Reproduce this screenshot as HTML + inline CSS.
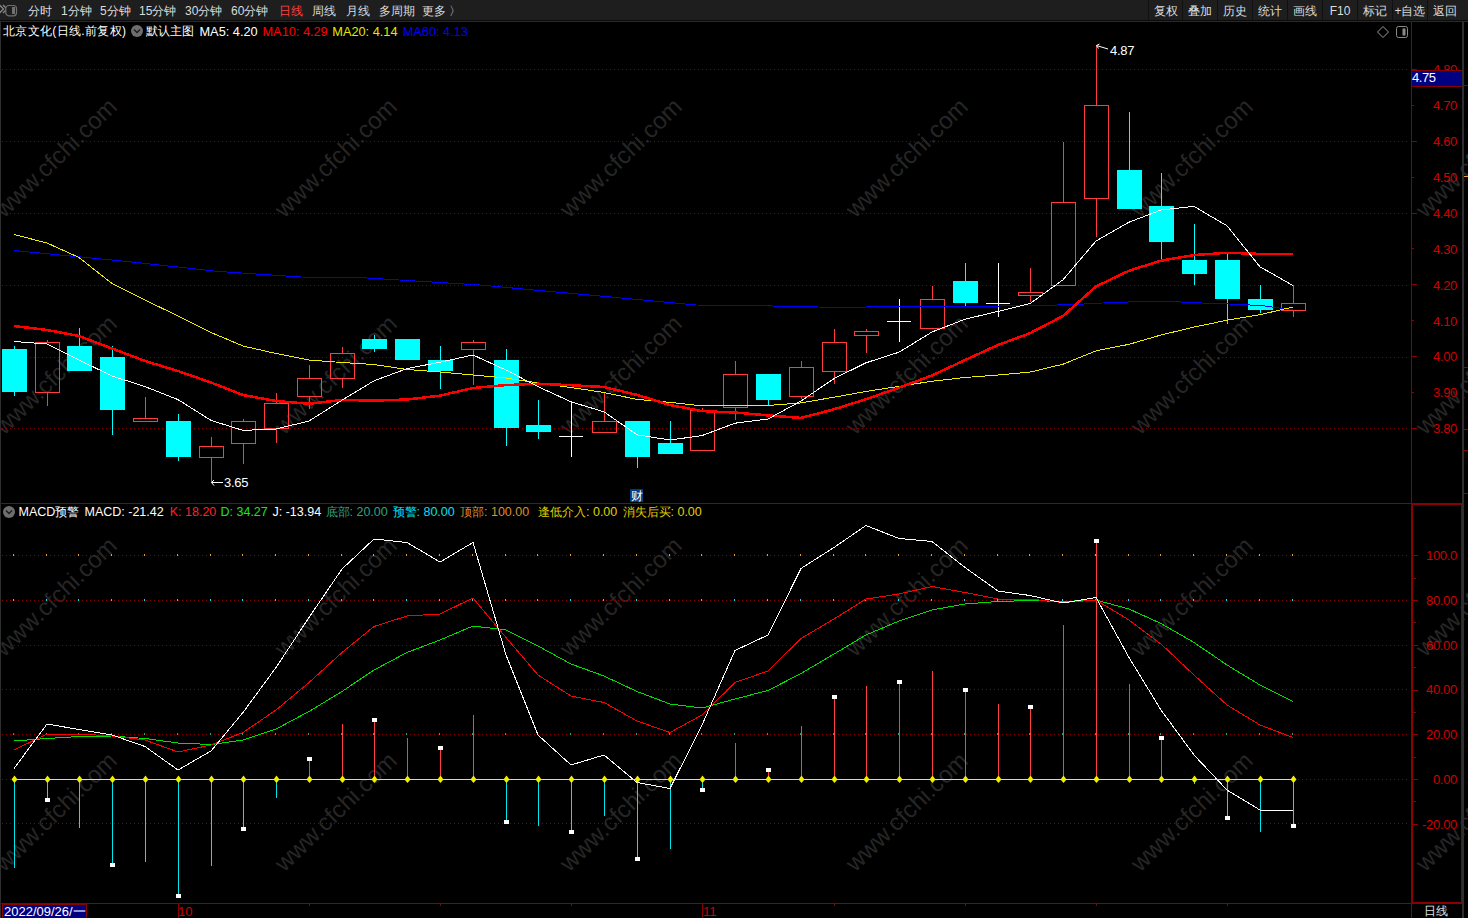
<!DOCTYPE html><html><head><meta charset="utf-8"><style>
html,body{margin:0;padding:0;background:#000;width:1468px;height:918px;overflow:hidden;font-family:"Liberation Sans",sans-serif;}
.a{position:absolute;white-space:nowrap;line-height:1;}
#tb{position:absolute;left:0;top:0;width:1468px;height:20px;background:#1e1e1f;}
.m{position:absolute;top:5px;font-size:12px;color:#dcdcdc;line-height:12px;white-space:nowrap;}
.b{position:absolute;top:0;height:20px;background:#1e1e1f;border-left:1px solid #101010;font-size:12px;color:#dcdcdc;line-height:22px;text-align:center;overflow:hidden;}
.hd{position:absolute;font-size:13px;line-height:13px;white-space:nowrap;}
svg{position:absolute;left:0;top:0;}
</style></head><body>
<svg width="1468" height="918" viewBox="0 0 1468 918"><text x="57" y="159" transform="rotate(-44 57 159)" text-anchor="middle" dominant-baseline="middle" font-size="24" fill="#262626" font-family="Liberation Sans, sans-serif">www.cfchi.com</text>
<text x="337" y="159" transform="rotate(-44 337 159)" text-anchor="middle" dominant-baseline="middle" font-size="24" fill="#262626" font-family="Liberation Sans, sans-serif">www.cfchi.com</text>
<text x="622" y="159" transform="rotate(-44 622 159)" text-anchor="middle" dominant-baseline="middle" font-size="24" fill="#262626" font-family="Liberation Sans, sans-serif">www.cfchi.com</text>
<text x="908" y="159" transform="rotate(-44 908 159)" text-anchor="middle" dominant-baseline="middle" font-size="24" fill="#262626" font-family="Liberation Sans, sans-serif">www.cfchi.com</text>
<text x="1193" y="159" transform="rotate(-44 1193 159)" text-anchor="middle" dominant-baseline="middle" font-size="24" fill="#262626" font-family="Liberation Sans, sans-serif">www.cfchi.com</text>
<text x="1478" y="159" transform="rotate(-44 1478 159)" text-anchor="middle" dominant-baseline="middle" font-size="24" fill="#262626" font-family="Liberation Sans, sans-serif">www.cfchi.com</text>
<text x="57" y="376" transform="rotate(-44 57 376)" text-anchor="middle" dominant-baseline="middle" font-size="24" fill="#262626" font-family="Liberation Sans, sans-serif">www.cfchi.com</text>
<text x="337" y="376" transform="rotate(-44 337 376)" text-anchor="middle" dominant-baseline="middle" font-size="24" fill="#262626" font-family="Liberation Sans, sans-serif">www.cfchi.com</text>
<text x="622" y="376" transform="rotate(-44 622 376)" text-anchor="middle" dominant-baseline="middle" font-size="24" fill="#262626" font-family="Liberation Sans, sans-serif">www.cfchi.com</text>
<text x="908" y="376" transform="rotate(-44 908 376)" text-anchor="middle" dominant-baseline="middle" font-size="24" fill="#262626" font-family="Liberation Sans, sans-serif">www.cfchi.com</text>
<text x="1193" y="376" transform="rotate(-44 1193 376)" text-anchor="middle" dominant-baseline="middle" font-size="24" fill="#262626" font-family="Liberation Sans, sans-serif">www.cfchi.com</text>
<text x="1478" y="376" transform="rotate(-44 1478 376)" text-anchor="middle" dominant-baseline="middle" font-size="24" fill="#262626" font-family="Liberation Sans, sans-serif">www.cfchi.com</text>
<text x="57" y="598" transform="rotate(-44 57 598)" text-anchor="middle" dominant-baseline="middle" font-size="24" fill="#262626" font-family="Liberation Sans, sans-serif">www.cfchi.com</text>
<text x="337" y="598" transform="rotate(-44 337 598)" text-anchor="middle" dominant-baseline="middle" font-size="24" fill="#262626" font-family="Liberation Sans, sans-serif">www.cfchi.com</text>
<text x="622" y="598" transform="rotate(-44 622 598)" text-anchor="middle" dominant-baseline="middle" font-size="24" fill="#262626" font-family="Liberation Sans, sans-serif">www.cfchi.com</text>
<text x="908" y="598" transform="rotate(-44 908 598)" text-anchor="middle" dominant-baseline="middle" font-size="24" fill="#262626" font-family="Liberation Sans, sans-serif">www.cfchi.com</text>
<text x="1193" y="598" transform="rotate(-44 1193 598)" text-anchor="middle" dominant-baseline="middle" font-size="24" fill="#262626" font-family="Liberation Sans, sans-serif">www.cfchi.com</text>
<text x="1478" y="598" transform="rotate(-44 1478 598)" text-anchor="middle" dominant-baseline="middle" font-size="24" fill="#262626" font-family="Liberation Sans, sans-serif">www.cfchi.com</text>
<text x="57" y="813" transform="rotate(-44 57 813)" text-anchor="middle" dominant-baseline="middle" font-size="24" fill="#262626" font-family="Liberation Sans, sans-serif">www.cfchi.com</text>
<text x="337" y="813" transform="rotate(-44 337 813)" text-anchor="middle" dominant-baseline="middle" font-size="24" fill="#262626" font-family="Liberation Sans, sans-serif">www.cfchi.com</text>
<text x="622" y="813" transform="rotate(-44 622 813)" text-anchor="middle" dominant-baseline="middle" font-size="24" fill="#262626" font-family="Liberation Sans, sans-serif">www.cfchi.com</text>
<text x="908" y="813" transform="rotate(-44 908 813)" text-anchor="middle" dominant-baseline="middle" font-size="24" fill="#262626" font-family="Liberation Sans, sans-serif">www.cfchi.com</text>
<text x="1193" y="813" transform="rotate(-44 1193 813)" text-anchor="middle" dominant-baseline="middle" font-size="24" fill="#262626" font-family="Liberation Sans, sans-serif">www.cfchi.com</text>
<text x="1478" y="813" transform="rotate(-44 1478 813)" text-anchor="middle" dominant-baseline="middle" font-size="24" fill="#262626" font-family="Liberation Sans, sans-serif">www.cfchi.com</text>
<line x1="2" y1="69.5" x2="1408" y2="69.5" stroke="#8a0000" stroke-width="1" stroke-dasharray="1 3"/>
<line x1="2" y1="141.5" x2="1408" y2="141.5" stroke="#8a0000" stroke-width="1" stroke-dasharray="1 3"/>
<line x1="2" y1="213.5" x2="1408" y2="213.5" stroke="#8a0000" stroke-width="1" stroke-dasharray="1 3"/>
<line x1="2" y1="285.5" x2="1408" y2="285.5" stroke="#8a0000" stroke-width="1" stroke-dasharray="1 3"/>
<line x1="2" y1="357.5" x2="1408" y2="357.5" stroke="#8a0000" stroke-width="1" stroke-dasharray="1 3"/>
<line x1="2" y1="428.5" x2="1408" y2="428.5" stroke="#8a0000" stroke-width="1" stroke-dasharray="1 3"/>
<line x1="2" y1="555.5" x2="1408" y2="555.5" stroke="#8a0000" stroke-width="1" stroke-dasharray="1 3"/>
<line x1="2" y1="600.5" x2="1408" y2="600.5" stroke="#8a0000" stroke-width="1" stroke-dasharray="1 3"/>
<line x1="2" y1="645.5" x2="1408" y2="645.5" stroke="#8a0000" stroke-width="1" stroke-dasharray="1 3"/>
<line x1="2" y1="689.5" x2="1408" y2="689.5" stroke="#8a0000" stroke-width="1" stroke-dasharray="1 3"/>
<line x1="2" y1="734.5" x2="1408" y2="734.5" stroke="#8a0000" stroke-width="1" stroke-dasharray="1 3"/>
<line x1="2" y1="779.5" x2="1408" y2="779.5" stroke="#8a0000" stroke-width="1" stroke-dasharray="1 3"/>
<line x1="2" y1="823.5" x2="1408" y2="823.5" stroke="#8a0000" stroke-width="1" stroke-dasharray="1 3"/>
<g shape-rendering="crispEdges"><rect x="14" y="346" width="1" height="3" fill="#00ffff"/><rect x="14" y="392" width="1" height="4" fill="#00ffff"/><rect x="2" y="349" width="25" height="43" fill="#00ffff"/><rect x="47" y="340" width="1" height="2" fill="#ff3c3c"/><rect x="47" y="392" width="1" height="14" fill="#ff3c3c"/><rect x="35.5" y="342.5" width="24" height="50" fill="none" stroke="#ff3c3c" stroke-width="1"/><rect x="79" y="328" width="1" height="18" fill="#00ffff"/><rect x="67" y="346" width="25" height="25" fill="#00ffff"/><rect x="112" y="346" width="1" height="11" fill="#00ffff"/><rect x="112" y="410" width="1" height="25" fill="#00ffff"/><rect x="100" y="357" width="25" height="53" fill="#00ffff"/><rect x="145" y="397" width="1" height="21" fill="#ff3c3c"/><rect x="133.5" y="418.5" width="24" height="3" fill="none" stroke="#ff3c3c" stroke-width="1"/><rect x="178" y="414" width="1" height="7" fill="#00ffff"/><rect x="178" y="457" width="1" height="4" fill="#00ffff"/><rect x="166" y="421" width="25" height="36" fill="#00ffff"/><rect x="211" y="437" width="1" height="9" fill="#ff3c3c"/><rect x="211" y="457" width="1" height="25" fill="#ff3c3c"/><rect x="199.5" y="446.5" width="24" height="11" fill="none" stroke="#ff3c3c" stroke-width="1"/><rect x="243" y="419" width="1" height="2" fill="#ff3c3c"/><rect x="243" y="443" width="1" height="21" fill="#ff3c3c"/><rect x="231.5" y="421.5" width="24" height="22" fill="none" stroke="#ff3c3c" stroke-width="1"/><rect x="276" y="393" width="1" height="10" fill="#ff3c3c"/><rect x="276" y="428" width="1" height="15" fill="#ff3c3c"/><rect x="264.5" y="403.5" width="24" height="25" fill="none" stroke="#ff3c3c" stroke-width="1"/><rect x="309" y="365" width="1" height="13" fill="#ff3c3c"/><rect x="309" y="396" width="1" height="13" fill="#ff3c3c"/><rect x="297.5" y="378.5" width="24" height="18" fill="none" stroke="#ff3c3c" stroke-width="1"/><rect x="342" y="347" width="1" height="6" fill="#ff3c3c"/><rect x="342" y="378" width="1" height="10" fill="#ff3c3c"/><rect x="330.5" y="353.5" width="24" height="25" fill="none" stroke="#ff3c3c" stroke-width="1"/><rect x="374" y="335" width="1" height="4" fill="#00ffff"/><rect x="374" y="349" width="1" height="3" fill="#00ffff"/><rect x="362" y="339" width="25" height="10" fill="#00ffff"/><rect x="395" y="339" width="25" height="21" fill="#00ffff"/><rect x="440" y="346" width="1" height="14" fill="#00ffff"/><rect x="440" y="371" width="1" height="18" fill="#00ffff"/><rect x="428" y="360" width="25" height="11" fill="#00ffff"/><rect x="473" y="340" width="1" height="2" fill="#ff3c3c"/><rect x="473" y="349" width="1" height="36" fill="#ff3c3c"/><rect x="461.5" y="342.5" width="24" height="7" fill="none" stroke="#ff3c3c" stroke-width="1"/><rect x="506" y="349" width="1" height="11" fill="#00ffff"/><rect x="506" y="428" width="1" height="18" fill="#00ffff"/><rect x="494" y="360" width="25" height="68" fill="#00ffff"/><rect x="538" y="400" width="1" height="25" fill="#00ffff"/><rect x="538" y="432" width="1" height="7" fill="#00ffff"/><rect x="526" y="425" width="25" height="7" fill="#00ffff"/><rect x="571" y="402" width="1" height="55" fill="#ffffff"/><rect x="559" y="436" width="24" height="1" fill="#ffffff"/><rect x="604" y="393" width="1" height="28" fill="#ff3c3c"/><rect x="592.5" y="421.5" width="24" height="11" fill="none" stroke="#ff3c3c" stroke-width="1"/><rect x="637" y="457" width="1" height="11" fill="#00ffff"/><rect x="625" y="421" width="25" height="36" fill="#00ffff"/><rect x="670" y="421" width="1" height="22" fill="#00ffff"/><rect x="658" y="443" width="25" height="11" fill="#00ffff"/><rect x="702" y="408" width="1" height="2" fill="#ff3c3c"/><rect x="690.5" y="410.5" width="24" height="40" fill="none" stroke="#ff3c3c" stroke-width="1"/><rect x="735" y="361" width="1" height="13" fill="#ff3c3c"/><rect x="735" y="407" width="1" height="13" fill="#ff3c3c"/><rect x="723.5" y="374.5" width="24" height="33" fill="none" stroke="#ff3c3c" stroke-width="1"/><rect x="768" y="400" width="1" height="5" fill="#00ffff"/><rect x="756" y="374" width="25" height="26" fill="#00ffff"/><rect x="801" y="361" width="1" height="6" fill="#ff3c3c"/><rect x="801" y="396" width="1" height="3" fill="#ff3c3c"/><rect x="789.5" y="367.5" width="24" height="29" fill="none" stroke="#ff3c3c" stroke-width="1"/><rect x="834" y="329" width="1" height="13" fill="#ff3c3c"/><rect x="834" y="371" width="1" height="13" fill="#ff3c3c"/><rect x="822.5" y="342.5" width="24" height="29" fill="none" stroke="#ff3c3c" stroke-width="1"/><rect x="866" y="329" width="1" height="2" fill="#ff3c3c"/><rect x="866" y="335" width="1" height="18" fill="#ff3c3c"/><rect x="854.5" y="331.5" width="24" height="4" fill="none" stroke="#ff3c3c" stroke-width="1"/><rect x="899" y="299" width="1" height="43" fill="#ffffff"/><rect x="887" y="321" width="24" height="1" fill="#ffffff"/><rect x="932" y="286" width="1" height="13" fill="#ff3c3c"/><rect x="920.5" y="299.5" width="24" height="29" fill="none" stroke="#ff3c3c" stroke-width="1"/><rect x="965" y="263" width="1" height="18" fill="#00ffff"/><rect x="965" y="303" width="1" height="3" fill="#00ffff"/><rect x="953" y="281" width="25" height="22" fill="#00ffff"/><rect x="998" y="263" width="1" height="54" fill="#ffffff"/><rect x="986" y="303" width="24" height="1" fill="#ffffff"/><rect x="1030" y="268" width="1" height="24" fill="#ff3c3c"/><rect x="1030" y="295" width="1" height="7" fill="#ff3c3c"/><rect x="1018.5" y="292.5" width="24" height="3" fill="none" stroke="#ff3c3c" stroke-width="1"/><rect x="1063" y="142" width="1" height="60" fill="#ff3c3c"/><rect x="1051.5" y="202.5" width="24" height="83" fill="none" stroke="#ff3c3c" stroke-width="1"/><rect x="1096" y="46" width="1" height="59" fill="#ff3c3c"/><rect x="1096" y="198" width="1" height="39" fill="#ff3c3c"/><rect x="1084.5" y="105.5" width="24" height="93" fill="none" stroke="#ff3c3c" stroke-width="1"/><rect x="1129" y="112" width="1" height="58" fill="#00ffff"/><rect x="1117" y="170" width="25" height="39" fill="#00ffff"/><rect x="1161" y="173" width="1" height="33" fill="#00ffff"/><rect x="1161" y="242" width="1" height="18" fill="#00ffff"/><rect x="1149" y="206" width="25" height="36" fill="#00ffff"/><rect x="1194" y="224" width="1" height="36" fill="#00ffff"/><rect x="1194" y="274" width="1" height="11" fill="#00ffff"/><rect x="1182" y="260" width="25" height="14" fill="#00ffff"/><rect x="1227" y="252" width="1" height="8" fill="#00ffff"/><rect x="1227" y="299" width="1" height="25" fill="#00ffff"/><rect x="1215" y="260" width="25" height="39" fill="#00ffff"/><rect x="1260" y="285" width="1" height="14" fill="#00ffff"/><rect x="1260" y="310" width="1" height="3" fill="#00ffff"/><rect x="1248" y="299" width="25" height="11" fill="#00ffff"/><rect x="1293" y="285" width="1" height="18" fill="#ff3c3c"/><rect x="1293" y="310" width="1" height="7" fill="#ff3c3c"/><rect x="1281.5" y="303.5" width="24" height="7" fill="none" stroke="#ff3c3c" stroke-width="1"/></g>
<polyline points="14.0,250.5 125.0,261.3 219.0,271.5 301.0,277.0 359.0,277.5 480.0,285.0 534.0,290.0 600.0,296.0 696.0,305.0 760.0,305.5 785.0,306.5 851.0,307.5 882.0,306.5 1000.0,306.0 1040.0,305.5 1075.0,304.5 1112.0,302.5 1145.0,301.5 1177.0,301.8 1202.0,303.0 1242.0,304.5 1265.0,306.0 1293.0,310.0" fill="none" stroke="#0000ff" stroke-width="1" shape-rendering="crispEdges"/>
<polyline points="14.0,234.5 47.0,243.0 79.0,257.5 112.0,283.5 145.0,300.0 178.0,316.0 211.0,332.5 243.0,346.0 276.0,353.5 309.0,360.0 342.0,362.5 374.0,364.5 407.0,369.5 440.0,372.0 473.0,375.0 506.0,378.0 538.0,383.0 571.0,387.5 604.0,392.5 637.0,399.4 670.0,402.4 702.0,405.9 735.0,406.0 768.0,405.5 801.0,402.9 834.0,397.2 866.0,391.4 899.0,386.4 932.0,381.2 965.0,377.5 998.0,375.0 1030.0,372.1 1063.0,364.2 1096.0,350.9 1129.0,344.3 1161.0,335.0 1194.0,327.1 1227.0,320.2 1260.0,314.7 1293.0,307.0" fill="none" stroke="#f0f000" stroke-width="1" shape-rendering="crispEdges"/>
<polyline points="14.0,326.0 47.0,330.0 79.0,336.0 112.0,348.5 145.0,361.0 178.0,371.0 211.0,382.5 243.0,395.0 276.0,401.0 309.0,403.8 342.0,399.9 374.0,400.6 407.0,399.5 440.0,395.6 473.0,388.0 506.0,385.1 538.0,383.7 571.0,385.2 604.0,387.0 637.0,394.9 670.0,405.0 702.0,411.1 735.0,412.5 768.0,415.4 801.0,417.9 834.0,409.3 866.0,399.2 899.0,387.7 932.0,375.5 965.0,360.1 998.0,345.0 1030.0,333.2 1063.0,316.0 1096.0,286.5 1129.0,270.7 1161.0,260.7 1194.0,255.0 1227.0,252.8 1260.0,253.9 1293.0,253.9" fill="none" stroke="#ff0000" stroke-width="2.5" shape-rendering="crispEdges"/>
<polyline points="14.0,341.5 47.0,344.0 79.0,360.0 112.0,376.0 145.0,386.6 178.0,399.6 211.0,420.4 243.0,430.4 276.0,429.0 309.0,421.0 342.0,400.2 374.0,380.8 407.0,368.6 440.0,362.2 473.0,355.0 506.0,370.0 538.0,386.6 571.0,401.8 604.0,411.8 637.0,434.8 670.0,440.0 702.0,435.6 735.0,423.2 768.0,419.0 801.0,401.0 834.0,378.6 866.0,362.8 899.0,352.2 932.0,332.0 965.0,319.2 998.0,311.4 1030.0,303.6 1063.0,279.8 1096.0,241.0 1129.0,222.2 1161.0,210.0 1194.0,206.4 1227.0,225.8 1260.0,266.8 1293.0,285.6" fill="none" stroke="#ffffff" stroke-width="1" shape-rendering="crispEdges"/>
<g shape-rendering="crispEdges"><rect x="13" y="554" width="1" height="2" fill="#e8a02a"/><rect x="13" y="599" width="1" height="2" fill="#00e5ff"/><rect x="13" y="733" width="1" height="2" fill="#2f9f7f"/><rect x="46" y="554" width="1" height="2" fill="#e8a02a"/><rect x="46" y="599" width="1" height="2" fill="#00e5ff"/><rect x="46" y="733" width="1" height="2" fill="#2f9f7f"/><rect x="78" y="554" width="1" height="2" fill="#e8a02a"/><rect x="78" y="599" width="1" height="2" fill="#00e5ff"/><rect x="78" y="733" width="1" height="2" fill="#2f9f7f"/><rect x="111" y="554" width="1" height="2" fill="#e8a02a"/><rect x="111" y="599" width="1" height="2" fill="#00e5ff"/><rect x="111" y="733" width="1" height="2" fill="#2f9f7f"/><rect x="144" y="554" width="1" height="2" fill="#e8a02a"/><rect x="144" y="599" width="1" height="2" fill="#00e5ff"/><rect x="144" y="733" width="1" height="2" fill="#2f9f7f"/><rect x="177" y="554" width="1" height="2" fill="#e8a02a"/><rect x="177" y="599" width="1" height="2" fill="#00e5ff"/><rect x="177" y="733" width="1" height="2" fill="#2f9f7f"/><rect x="210" y="554" width="1" height="2" fill="#e8a02a"/><rect x="210" y="599" width="1" height="2" fill="#00e5ff"/><rect x="210" y="733" width="1" height="2" fill="#2f9f7f"/><rect x="242" y="554" width="1" height="2" fill="#e8a02a"/><rect x="242" y="599" width="1" height="2" fill="#00e5ff"/><rect x="242" y="733" width="1" height="2" fill="#2f9f7f"/><rect x="275" y="554" width="1" height="2" fill="#e8a02a"/><rect x="275" y="599" width="1" height="2" fill="#00e5ff"/><rect x="275" y="733" width="1" height="2" fill="#2f9f7f"/><rect x="308" y="554" width="1" height="2" fill="#e8a02a"/><rect x="308" y="599" width="1" height="2" fill="#00e5ff"/><rect x="308" y="733" width="1" height="2" fill="#2f9f7f"/><rect x="341" y="554" width="1" height="2" fill="#e8a02a"/><rect x="341" y="599" width="1" height="2" fill="#00e5ff"/><rect x="341" y="733" width="1" height="2" fill="#2f9f7f"/><rect x="373" y="554" width="1" height="2" fill="#e8a02a"/><rect x="373" y="599" width="1" height="2" fill="#00e5ff"/><rect x="373" y="733" width="1" height="2" fill="#2f9f7f"/><rect x="406" y="554" width="1" height="2" fill="#e8a02a"/><rect x="406" y="599" width="1" height="2" fill="#00e5ff"/><rect x="406" y="733" width="1" height="2" fill="#2f9f7f"/><rect x="439" y="554" width="1" height="2" fill="#e8a02a"/><rect x="439" y="599" width="1" height="2" fill="#00e5ff"/><rect x="439" y="733" width="1" height="2" fill="#2f9f7f"/><rect x="472" y="554" width="1" height="2" fill="#e8a02a"/><rect x="472" y="599" width="1" height="2" fill="#00e5ff"/><rect x="472" y="733" width="1" height="2" fill="#2f9f7f"/><rect x="505" y="554" width="1" height="2" fill="#e8a02a"/><rect x="505" y="599" width="1" height="2" fill="#00e5ff"/><rect x="505" y="733" width="1" height="2" fill="#2f9f7f"/><rect x="537" y="554" width="1" height="2" fill="#e8a02a"/><rect x="537" y="599" width="1" height="2" fill="#00e5ff"/><rect x="537" y="733" width="1" height="2" fill="#2f9f7f"/><rect x="570" y="554" width="1" height="2" fill="#e8a02a"/><rect x="570" y="599" width="1" height="2" fill="#00e5ff"/><rect x="570" y="733" width="1" height="2" fill="#2f9f7f"/><rect x="603" y="554" width="1" height="2" fill="#e8a02a"/><rect x="603" y="599" width="1" height="2" fill="#00e5ff"/><rect x="603" y="733" width="1" height="2" fill="#2f9f7f"/><rect x="636" y="554" width="1" height="2" fill="#e8a02a"/><rect x="636" y="599" width="1" height="2" fill="#00e5ff"/><rect x="636" y="733" width="1" height="2" fill="#2f9f7f"/><rect x="669" y="554" width="1" height="2" fill="#e8a02a"/><rect x="669" y="599" width="1" height="2" fill="#00e5ff"/><rect x="669" y="733" width="1" height="2" fill="#2f9f7f"/><rect x="701" y="554" width="1" height="2" fill="#e8a02a"/><rect x="701" y="599" width="1" height="2" fill="#00e5ff"/><rect x="701" y="733" width="1" height="2" fill="#2f9f7f"/><rect x="734" y="554" width="1" height="2" fill="#e8a02a"/><rect x="734" y="599" width="1" height="2" fill="#00e5ff"/><rect x="734" y="733" width="1" height="2" fill="#2f9f7f"/><rect x="767" y="554" width="1" height="2" fill="#e8a02a"/><rect x="767" y="599" width="1" height="2" fill="#00e5ff"/><rect x="767" y="733" width="1" height="2" fill="#2f9f7f"/><rect x="800" y="554" width="1" height="2" fill="#e8a02a"/><rect x="800" y="599" width="1" height="2" fill="#00e5ff"/><rect x="800" y="733" width="1" height="2" fill="#2f9f7f"/><rect x="833" y="554" width="1" height="2" fill="#e8a02a"/><rect x="833" y="599" width="1" height="2" fill="#00e5ff"/><rect x="833" y="733" width="1" height="2" fill="#2f9f7f"/><rect x="865" y="554" width="1" height="2" fill="#e8a02a"/><rect x="865" y="599" width="1" height="2" fill="#00e5ff"/><rect x="865" y="733" width="1" height="2" fill="#2f9f7f"/><rect x="898" y="554" width="1" height="2" fill="#e8a02a"/><rect x="898" y="599" width="1" height="2" fill="#00e5ff"/><rect x="898" y="733" width="1" height="2" fill="#2f9f7f"/><rect x="931" y="554" width="1" height="2" fill="#e8a02a"/><rect x="931" y="599" width="1" height="2" fill="#00e5ff"/><rect x="931" y="733" width="1" height="2" fill="#2f9f7f"/><rect x="964" y="554" width="1" height="2" fill="#e8a02a"/><rect x="964" y="599" width="1" height="2" fill="#00e5ff"/><rect x="964" y="733" width="1" height="2" fill="#2f9f7f"/><rect x="997" y="554" width="1" height="2" fill="#e8a02a"/><rect x="997" y="599" width="1" height="2" fill="#00e5ff"/><rect x="997" y="733" width="1" height="2" fill="#2f9f7f"/><rect x="1029" y="554" width="1" height="2" fill="#e8a02a"/><rect x="1029" y="599" width="1" height="2" fill="#00e5ff"/><rect x="1029" y="733" width="1" height="2" fill="#2f9f7f"/><rect x="1062" y="554" width="1" height="2" fill="#e8a02a"/><rect x="1062" y="599" width="1" height="2" fill="#00e5ff"/><rect x="1062" y="733" width="1" height="2" fill="#2f9f7f"/><rect x="1095" y="554" width="1" height="2" fill="#e8a02a"/><rect x="1095" y="599" width="1" height="2" fill="#00e5ff"/><rect x="1095" y="733" width="1" height="2" fill="#2f9f7f"/><rect x="1128" y="554" width="1" height="2" fill="#e8a02a"/><rect x="1128" y="599" width="1" height="2" fill="#00e5ff"/><rect x="1128" y="733" width="1" height="2" fill="#2f9f7f"/><rect x="1160" y="554" width="1" height="2" fill="#e8a02a"/><rect x="1160" y="599" width="1" height="2" fill="#00e5ff"/><rect x="1160" y="733" width="1" height="2" fill="#2f9f7f"/><rect x="1193" y="554" width="1" height="2" fill="#e8a02a"/><rect x="1193" y="599" width="1" height="2" fill="#00e5ff"/><rect x="1193" y="733" width="1" height="2" fill="#2f9f7f"/><rect x="1226" y="554" width="1" height="2" fill="#e8a02a"/><rect x="1226" y="599" width="1" height="2" fill="#00e5ff"/><rect x="1226" y="733" width="1" height="2" fill="#2f9f7f"/><rect x="1259" y="554" width="1" height="2" fill="#e8a02a"/><rect x="1259" y="599" width="1" height="2" fill="#00e5ff"/><rect x="1259" y="733" width="1" height="2" fill="#2f9f7f"/><rect x="1292" y="554" width="1" height="2" fill="#e8a02a"/><rect x="1292" y="599" width="1" height="2" fill="#00e5ff"/><rect x="1292" y="733" width="1" height="2" fill="#2f9f7f"/><rect x="14" y="780" width="1" height="88" fill="#00e5ee"/><rect x="47" y="780" width="1" height="20" fill="#00e5ee"/><rect x="79" y="780" width="1" height="48" fill="#00e5ee"/><rect x="112" y="780" width="1" height="85" fill="#00e5ee"/><rect x="145" y="780" width="1" height="82" fill="#00e5ee"/><rect x="178" y="780" width="1" height="116" fill="#00e5ee"/><rect x="211" y="780" width="1" height="86" fill="#00e5ee"/><rect x="243" y="780" width="1" height="49" fill="#00e5ee"/><rect x="276" y="780" width="1" height="18" fill="#00e5ee"/><rect x="309" y="759" width="1" height="20" fill="#ff4040"/><rect x="342" y="724" width="1" height="55" fill="#ff4040"/><rect x="374" y="720" width="1" height="59" fill="#ff4040"/><rect x="407" y="738" width="1" height="41" fill="#ff4040"/><rect x="440" y="748" width="1" height="31" fill="#ff4040"/><rect x="473" y="715" width="1" height="64" fill="#ff4040"/><rect x="506" y="780" width="1" height="42" fill="#00e5ee"/><rect x="538" y="780" width="1" height="46" fill="#00e5ee"/><rect x="571" y="780" width="1" height="52" fill="#00e5ee"/><rect x="604" y="780" width="1" height="36" fill="#00e5ee"/><rect x="637" y="780" width="1" height="79" fill="#00e5ee"/><rect x="670" y="780" width="1" height="69" fill="#00e5ee"/><rect x="702" y="780" width="1" height="10" fill="#00e5ee"/><rect x="735" y="743" width="1" height="36" fill="#ff4040"/><rect x="768" y="770" width="1" height="9" fill="#ff4040"/><rect x="801" y="726" width="1" height="53" fill="#ff4040"/><rect x="834" y="697" width="1" height="82" fill="#ff4040"/><rect x="866" y="686" width="1" height="93" fill="#ff4040"/><rect x="899" y="682" width="1" height="97" fill="#ff4040"/><rect x="932" y="671" width="1" height="108" fill="#ff4040"/><rect x="965" y="690" width="1" height="89" fill="#ff4040"/><rect x="998" y="704" width="1" height="75" fill="#ff4040"/><rect x="1030" y="707" width="1" height="72" fill="#ff4040"/><rect x="1063" y="625" width="1" height="154" fill="#ff4040"/><rect x="1096" y="541" width="1" height="238" fill="#ff4040"/><rect x="1129" y="684" width="1" height="95" fill="#ff4040"/><rect x="1161" y="738" width="1" height="41" fill="#ff4040"/><rect x="1194" y="780" width="1" height="4" fill="#00e5ee"/><rect x="1227" y="780" width="1" height="38" fill="#00e5ee"/><rect x="1260" y="780" width="1" height="52" fill="#00e5ee"/><rect x="1293" y="780" width="1" height="46" fill="#00e5ee"/></g>
<polyline points="14.0,741.0 47.0,738.5 79.0,736.5 112.0,736.0 145.0,738.5 178.0,743.0 211.0,744.5 243.0,740.0 276.0,729.0 309.0,711.5 342.0,691.5 374.0,670.0 407.0,652.5 440.0,640.0 473.0,626.0 506.0,630.0 538.0,646.0 571.0,664.0 604.0,676.0 637.0,691.5 670.0,704.0 702.0,708.0 735.0,699.0 768.0,690.5 801.0,673.5 834.0,654.0 866.0,635.0 899.0,621.0 932.0,610.0 965.0,604.0 998.0,601.5 1030.0,600.5 1063.0,601.5 1096.0,600.0 1129.0,609.0 1161.0,623.5 1194.0,642.5 1227.0,665.0 1260.0,685.0 1293.0,701.5" fill="none" stroke="#00e000" stroke-width="1" shape-rendering="crispEdges"/>
<polyline points="14.0,750.0 47.0,734.0 79.0,734.0 112.0,736.0 145.0,740.0 178.0,752.0 211.0,745.0 243.0,732.5 276.0,710.0 309.0,682.5 342.0,652.5 374.0,626.5 407.0,616.0 440.0,614.0 473.0,598.0 506.0,637.5 538.0,675.0 571.0,696.0 604.0,702.5 637.0,721.0 670.0,732.5 702.0,715.0 735.0,682.5 768.0,671.0 801.0,638.5 834.0,619.0 866.0,599.0 899.0,594.0 932.0,586.5 965.0,592.5 998.0,599.0 1030.0,599.0 1063.0,602.5 1096.0,600.0 1129.0,620.0 1161.0,644.0 1194.0,675.0 1227.0,705.0 1260.0,725.0 1293.0,737.5" fill="none" stroke="#ff0000" stroke-width="1" shape-rendering="crispEdges"/>
<polyline points="14.0,768.5 47.0,724.0 79.0,729.5 112.0,735.0 145.0,746.5 178.0,770.0 211.0,751.0 243.0,712.5 276.0,667.5 309.0,617.5 342.0,569.0 374.0,539.0 407.0,542.5 440.0,562.0 473.0,542.5 506.0,655.0 538.0,735.0 571.0,765.0 604.0,755.0 637.0,782.5 670.0,788.5 702.0,725.0 735.0,650.5 768.0,635.0 801.0,568.5 834.0,547.5 866.0,525.5 899.0,538.5 932.0,541.5 965.0,567.5 998.0,591.0 1030.0,595.5 1063.0,603.0 1096.0,597.5 1129.0,657.5 1161.0,710.0 1194.0,755.0 1227.0,790.0 1260.0,810.0 1293.0,810.0" fill="none" stroke="#ffffff" stroke-width="1" shape-rendering="crispEdges"/>
<g><rect x="14" y="779" width="1279" height="1" fill="#f0f000"/><path d="M14.5,775.5 L17.5,779.5 L14.5,783 L11.5,779.5Z" fill="#f0f000"/><path d="M47.5,775.5 L50.5,779.5 L47.5,783 L44.5,779.5Z" fill="#f0f000"/><path d="M79.5,775.5 L82.5,779.5 L79.5,783 L76.5,779.5Z" fill="#f0f000"/><path d="M112.5,775.5 L115.5,779.5 L112.5,783 L109.5,779.5Z" fill="#f0f000"/><path d="M145.5,775.5 L148.5,779.5 L145.5,783 L142.5,779.5Z" fill="#f0f000"/><path d="M178.5,775.5 L181.5,779.5 L178.5,783 L175.5,779.5Z" fill="#f0f000"/><path d="M211.5,775.5 L214.5,779.5 L211.5,783 L208.5,779.5Z" fill="#f0f000"/><path d="M243.5,775.5 L246.5,779.5 L243.5,783 L240.5,779.5Z" fill="#f0f000"/><path d="M276.5,775.5 L279.5,779.5 L276.5,783 L273.5,779.5Z" fill="#f0f000"/><path d="M309.5,775.5 L312.5,779.5 L309.5,783 L306.5,779.5Z" fill="#f0f000"/><path d="M342.5,775.5 L345.5,779.5 L342.5,783 L339.5,779.5Z" fill="#f0f000"/><path d="M374.5,775.5 L377.5,779.5 L374.5,783 L371.5,779.5Z" fill="#f0f000"/><path d="M407.5,775.5 L410.5,779.5 L407.5,783 L404.5,779.5Z" fill="#f0f000"/><path d="M440.5,775.5 L443.5,779.5 L440.5,783 L437.5,779.5Z" fill="#f0f000"/><path d="M473.5,775.5 L476.5,779.5 L473.5,783 L470.5,779.5Z" fill="#f0f000"/><path d="M506.5,775.5 L509.5,779.5 L506.5,783 L503.5,779.5Z" fill="#f0f000"/><path d="M538.5,775.5 L541.5,779.5 L538.5,783 L535.5,779.5Z" fill="#f0f000"/><path d="M571.5,775.5 L574.5,779.5 L571.5,783 L568.5,779.5Z" fill="#f0f000"/><path d="M604.5,775.5 L607.5,779.5 L604.5,783 L601.5,779.5Z" fill="#f0f000"/><path d="M637.5,775.5 L640.5,779.5 L637.5,783 L634.5,779.5Z" fill="#f0f000"/><path d="M670.5,775.5 L673.5,779.5 L670.5,783 L667.5,779.5Z" fill="#f0f000"/><path d="M702.5,775.5 L705.5,779.5 L702.5,783 L699.5,779.5Z" fill="#f0f000"/><path d="M735.5,775.5 L738.5,779.5 L735.5,783 L732.5,779.5Z" fill="#f0f000"/><path d="M768.5,775.5 L771.5,779.5 L768.5,783 L765.5,779.5Z" fill="#f0f000"/><path d="M801.5,775.5 L804.5,779.5 L801.5,783 L798.5,779.5Z" fill="#f0f000"/><path d="M834.5,775.5 L837.5,779.5 L834.5,783 L831.5,779.5Z" fill="#f0f000"/><path d="M866.5,775.5 L869.5,779.5 L866.5,783 L863.5,779.5Z" fill="#f0f000"/><path d="M899.5,775.5 L902.5,779.5 L899.5,783 L896.5,779.5Z" fill="#f0f000"/><path d="M932.5,775.5 L935.5,779.5 L932.5,783 L929.5,779.5Z" fill="#f0f000"/><path d="M965.5,775.5 L968.5,779.5 L965.5,783 L962.5,779.5Z" fill="#f0f000"/><path d="M998.5,775.5 L1001.5,779.5 L998.5,783 L995.5,779.5Z" fill="#f0f000"/><path d="M1030.5,775.5 L1033.5,779.5 L1030.5,783 L1027.5,779.5Z" fill="#f0f000"/><path d="M1063.5,775.5 L1066.5,779.5 L1063.5,783 L1060.5,779.5Z" fill="#f0f000"/><path d="M1096.5,775.5 L1099.5,779.5 L1096.5,783 L1093.5,779.5Z" fill="#f0f000"/><path d="M1129.5,775.5 L1132.5,779.5 L1129.5,783 L1126.5,779.5Z" fill="#f0f000"/><path d="M1161.5,775.5 L1164.5,779.5 L1161.5,783 L1158.5,779.5Z" fill="#f0f000"/><path d="M1194.5,775.5 L1197.5,779.5 L1194.5,783 L1191.5,779.5Z" fill="#f0f000"/><path d="M1227.5,775.5 L1230.5,779.5 L1227.5,783 L1224.5,779.5Z" fill="#f0f000"/><path d="M1260.5,775.5 L1263.5,779.5 L1260.5,783 L1257.5,779.5Z" fill="#f0f000"/><path d="M1293.5,775.5 L1296.5,779.5 L1293.5,783 L1290.5,779.5Z" fill="#f0f000"/><rect x="45" y="798" width="5" height="4" fill="#ffffff"/><rect x="110" y="863" width="5" height="4" fill="#ffffff"/><rect x="176" y="894" width="5" height="4" fill="#ffffff"/><rect x="241" y="827" width="5" height="4" fill="#ffffff"/><rect x="307" y="757" width="5" height="4" fill="#ffffff"/><rect x="372" y="718" width="5" height="4" fill="#ffffff"/><rect x="438" y="746" width="5" height="4" fill="#ffffff"/><rect x="504" y="820" width="5" height="4" fill="#ffffff"/><rect x="569" y="830" width="5" height="4" fill="#ffffff"/><rect x="635" y="857" width="5" height="4" fill="#ffffff"/><rect x="700" y="788" width="5" height="4" fill="#ffffff"/><rect x="766" y="768" width="5" height="4" fill="#ffffff"/><rect x="832" y="695" width="5" height="4" fill="#ffffff"/><rect x="897" y="680" width="5" height="4" fill="#ffffff"/><rect x="963" y="688" width="5" height="4" fill="#ffffff"/><rect x="1028" y="705" width="5" height="4" fill="#ffffff"/><rect x="1094" y="539" width="5" height="4" fill="#ffffff"/><rect x="1159" y="736" width="5" height="4" fill="#ffffff"/><rect x="1225" y="816" width="5" height="4" fill="#ffffff"/><rect x="1291" y="824" width="5" height="4" fill="#ffffff"/></g>
<g shape-rendering="crispEdges"><rect x="0" y="22" width="1" height="896" fill="#2e2e2e"/><rect x="1411" y="22" width="1" height="481" fill="#8b0000"/><rect x="0" y="503" width="1411" height="1" fill="#8b0000"/><rect x="1462" y="22" width="2" height="896" fill="#2e2e2e"/><rect x="1411" y="503" width="51" height="2" fill="#8b0000"/><rect x="1411" y="503" width="2" height="401" fill="#8b0000"/><rect x="1461" y="503" width="1" height="401" fill="#8b0000"/><rect x="1411" y="902" width="51" height="2" fill="#8b0000"/><rect x="0" y="903" width="1411" height="1" fill="#8b0000"/><rect x="1411" y="903" width="1" height="15" fill="#8b0000"/><rect x="1412" y="69" width="5" height="1" fill="#8b0000"/><rect x="1412" y="105" width="2" height="1" fill="#8b0000"/><rect x="1412" y="141" width="5" height="1" fill="#8b0000"/><rect x="1412" y="177" width="2" height="1" fill="#8b0000"/><rect x="1412" y="213" width="5" height="1" fill="#8b0000"/><rect x="1412" y="248" width="2" height="1" fill="#8b0000"/><rect x="1412" y="284" width="5" height="1" fill="#8b0000"/><rect x="1412" y="320" width="2" height="1" fill="#8b0000"/><rect x="1412" y="356" width="5" height="1" fill="#8b0000"/><rect x="1412" y="392" width="2" height="1" fill="#8b0000"/><rect x="1412" y="428" width="5" height="1" fill="#8b0000"/><rect x="1413" y="555" width="5" height="1" fill="#8b0000"/><rect x="1413" y="578" width="3" height="1" fill="#8b0000"/><rect x="1413" y="600" width="5" height="1" fill="#8b0000"/><rect x="1413" y="622" width="3" height="1" fill="#8b0000"/><rect x="1413" y="645" width="5" height="1" fill="#8b0000"/><rect x="1413" y="667" width="3" height="1" fill="#8b0000"/><rect x="1413" y="690" width="5" height="1" fill="#8b0000"/><rect x="1413" y="712" width="3" height="1" fill="#8b0000"/><rect x="1413" y="734" width="5" height="1" fill="#8b0000"/><rect x="1413" y="757" width="3" height="1" fill="#8b0000"/><rect x="1413" y="779" width="5" height="1" fill="#8b0000"/><rect x="1413" y="801" width="3" height="1" fill="#8b0000"/><rect x="1413" y="824" width="5" height="1" fill="#8b0000"/><rect x="47" y="904" width="1" height="2" fill="#8b0000"/><rect x="178" y="904" width="1" height="2" fill="#8b0000"/><rect x="309" y="904" width="1" height="2" fill="#8b0000"/><rect x="440" y="904" width="1" height="2" fill="#8b0000"/><rect x="571" y="904" width="1" height="2" fill="#8b0000"/><rect x="702" y="904" width="1" height="2" fill="#8b0000"/><rect x="834" y="904" width="1" height="2" fill="#8b0000"/><rect x="965" y="904" width="1" height="2" fill="#8b0000"/><rect x="1096" y="904" width="1" height="2" fill="#8b0000"/><rect x="1227" y="904" width="1" height="2" fill="#8b0000"/><rect x="178" y="904" width="1" height="14" fill="#8b0000"/><rect x="702" y="904" width="1" height="14" fill="#8b0000"/><rect x="630" y="489" width="13" height="13" fill="#003a80"/><rect x="1464" y="85" width="4" height="1" fill="#8b0000"/><rect x="1464" y="176" width="4" height="1" fill="#e8a02a"/><rect x="1464" y="367" width="4" height="1" fill="#8b0000"/><rect x="1464" y="429" width="4" height="1" fill="#8b0000"/><rect x="1464" y="450" width="4" height="1" fill="#8b0000"/><rect x="1464" y="493" width="4" height="1" fill="#8b0000"/></g>
<g font-family="Liberation Sans, sans-serif"><text x="1457" y="74.2" text-anchor="end" font-size="13" letter-spacing="-0.3" fill="#d00000">4.80</text><text x="1457" y="110.1" text-anchor="end" font-size="13" letter-spacing="-0.3" fill="#d00000">4.70</text><text x="1457" y="146.0" text-anchor="end" font-size="13" letter-spacing="-0.3" fill="#d00000">4.60</text><text x="1457" y="181.9" text-anchor="end" font-size="13" letter-spacing="-0.3" fill="#d00000">4.50</text><text x="1457" y="217.8" text-anchor="end" font-size="13" letter-spacing="-0.3" fill="#d00000">4.40</text><text x="1457" y="253.7" text-anchor="end" font-size="13" letter-spacing="-0.3" fill="#d00000">4.30</text><text x="1457" y="289.6" text-anchor="end" font-size="13" letter-spacing="-0.3" fill="#d00000">4.20</text><text x="1457" y="325.5" text-anchor="end" font-size="13" letter-spacing="-0.3" fill="#d00000">4.10</text><text x="1457" y="361.4" text-anchor="end" font-size="13" letter-spacing="-0.3" fill="#d00000">4.00</text><text x="1457" y="397.3" text-anchor="end" font-size="13" letter-spacing="-0.3" fill="#d00000">3.90</text><text x="1457" y="433.2" text-anchor="end" font-size="13" letter-spacing="-0.3" fill="#d00000">3.80</text><text x="1457" y="560.0" text-anchor="end" font-size="13" letter-spacing="-0.3" fill="#d00000">100.0</text><text x="1457" y="604.7" text-anchor="end" font-size="13" letter-spacing="-0.3" fill="#d00000">80.00</text><text x="1457" y="649.5" text-anchor="end" font-size="13" letter-spacing="-0.3" fill="#d00000">60.00</text><text x="1457" y="694.2" text-anchor="end" font-size="13" letter-spacing="-0.3" fill="#d00000">40.00</text><text x="1457" y="739.0" text-anchor="end" font-size="13" letter-spacing="-0.3" fill="#d00000">20.00</text><text x="1457" y="783.7" text-anchor="end" font-size="13" letter-spacing="-0.3" fill="#d00000">0.00</text><text x="1457" y="828.5" text-anchor="end" font-size="13" letter-spacing="-0.3" fill="#d00000">-20.00</text></g>
<g shape-rendering="crispEdges"><rect x="1411" y="70" width="51" height="17" fill="#8b0000"/><rect x="1412" y="71" width="50" height="15" fill="#000080"/><rect x="2" y="904" width="85" height="14" fill="#8b0000"/><rect x="3" y="905" width="83" height="13" fill="#000080"/></g><g font-family="Liberation Sans, sans-serif"><text x="1412" y="82" font-size="13" letter-spacing="-0.4" fill="#ffffff">4.75</text><text x="4" y="916" font-size="13" fill="#ffffff">2022/09/26/一</text><text x="178" y="916" font-size="13" fill="#d00000">10</text><text x="703" y="916" font-size="13" fill="#d00000">11</text><text x="1424" y="915" font-size="12" fill="#e0e0e0">日线</text><text x="1110" y="55" font-size="13" letter-spacing="-0.3" fill="#ffffff">4.87</text><text x="224" y="487" font-size="13" letter-spacing="-0.3" fill="#ffffff">3.65</text><text x="636.5" y="500" font-size="12" text-anchor="middle" fill="#ffffff">财</text></g><path d="M1096.5,45.5 L1108,49 M1096.5,45.5 L1099.5,44 M1096.5,45.5 L1098.5,48.5" stroke="#ffffff" stroke-width="1" fill="none"/><path d="M211.5,482.5 L223,482.5 M211.5,482.5 L214,480 M211.5,482.5 L214,485.5" stroke="#ffffff" stroke-width="1" fill="none"/><path d="M1383,26.5 L1388.5,32 L1383,37.5 L1377.5,32Z" fill="none" stroke="#9a9a9a" stroke-width="1"/><rect x="1396.5" y="26.5" width="11" height="11" rx="2" fill="none" stroke="#8a8a8a" stroke-width="1"/><rect x="1402.5" y="28.5" width="3" height="7" fill="#8a8a8a"/></svg>
<div id="tb">
<div class="m" style="left:28px;color:#dcdcdc">分时</div>
<div class="m" style="left:61px;color:#dcdcdc">1分钟</div>
<div class="m" style="left:100px;color:#dcdcdc">5分钟</div>
<div class="m" style="left:139px;color:#dcdcdc">15分钟</div>
<div class="m" style="left:185px;color:#dcdcdc">30分钟</div>
<div class="m" style="left:231px;color:#dcdcdc">60分钟</div>
<div class="m" style="left:279px;color:#ff4040">日线</div>
<div class="m" style="left:312px;color:#dcdcdc">周线</div>
<div class="m" style="left:346px;color:#dcdcdc">月线</div>
<div class="m" style="left:379px;color:#dcdcdc">多周期</div>
<div class="m" style="left:422px;color:#dcdcdc">更多 〉</div>
<div class="b" style="left:1148px;width:33px">复权</div>
<div class="b" style="left:1182px;width:34px">叠加</div>
<div class="b" style="left:1217px;width:34px">历史</div>
<div class="b" style="left:1252px;width:34px">统计</div>
<div class="b" style="left:1287px;width:34px">画线</div>
<div class="b" style="left:1322px;width:34px">F10</div>
<div class="b" style="left:1357px;width:34px">标记</div>
<div class="b" style="left:1392px;width:34px">+自选</div>
<div class="b" style="left:1427px;width:34px">返回</div>
<svg width="20" height="20" style="left:0;top:0"><path d="M-0.5,5 L3.5,9 L-0.5,13 M3,5 L7,9 L3,13" stroke="#8a8a8a" fill="none" stroke-width="1.3"/><rect x="5.8" y="5.5" width="10.7" height="10.3" rx="3" fill="#1e1e1f" stroke="#707070" stroke-width="1.2"/><rect x="12" y="7" width="3" height="7" fill="#707070"/></svg>
</div>
<div style="position:absolute;left:0;top:20px;width:1468px;height:1px;background:#0a0a0a"></div>
<div style="position:absolute;left:0;top:21px;width:1468px;height:1px;background:#2a2a2a"></div>
<div class="hd" style="left:3px;top:25px;font-size:12px;letter-spacing:0.33px;color:#ffffff">北京文化(日线.前复权)</div>
<div class="hd" style="left:146px;top:25px;font-size:12px;color:#ffffff">默认主图</div>
<div class="hd" style="left:199.5px;top:25px;font-size:12.75px;color:#ffffff">MA5: 4.20</div>
<div class="hd" style="left:262.5px;top:25px;font-size:12.75px;color:#ff0000">MA10: 4.29</div>
<div class="hd" style="left:332.3px;top:25px;font-size:12.75px;color:#e6e600">MA20: 4.14</div>
<div class="hd" style="left:402.7px;top:25px;font-size:12.75px;color:#0000ff">MA60: 4.13</div>
<svg width="14" height="14" style="left:130px;top:24px"><circle cx="7" cy="7" r="6" fill="#6e6e6e"/><path d="M4,5.5 L7,8.5 L10,5.5" stroke="#1a1a1a" stroke-width="1.3" fill="none"/></svg>
<div class="hd" style="left:18.5px;top:506px;font-size:12.5px;color:#ffffff">MACD<span style="font-size:12px">预警</span></div>
<div class="hd" style="left:84.5px;top:506px;font-size:12.5px;color:#ffffff">MACD: -21.42</div>
<div class="hd" style="left:169.75px;top:506px;font-size:12.5px;color:#ff2020">K: 18.20</div>
<div class="hd" style="left:220.5px;top:506px;font-size:12.5px;color:#20e020">D: 34.27</div>
<div class="hd" style="left:272.5px;top:506px;font-size:12.5px;color:#ffffff">J: -13.94</div>
<div class="hd" style="left:325.5px;top:506px;font-size:12.5px;color:#30a080"><span style="font-size:12px">底部</span>: 20.00</div>
<div class="hd" style="left:392.5px;top:506px;font-size:12.5px;color:#00e0f0"><span style="font-size:12px">预警</span>: 80.00</div>
<div class="hd" style="left:460px;top:506px;font-size:12.5px;color:#d89030"><span style="font-size:12px">顶部</span>: 100.00</div>
<div class="hd" style="left:538px;top:506px;font-size:12.5px;color:#e0d000"><span style="font-size:12px">逢低介入</span>: 0.00</div>
<div class="hd" style="left:622.5px;top:506px;font-size:12.5px;color:#e0d000"><span style="font-size:12px">消失后买</span>: 0.00</div>
<svg width="14" height="14" style="left:2px;top:505px"><circle cx="7" cy="7" r="6" fill="#6e6e6e"/><path d="M4,5.5 L7,8.5 L10,5.5" stroke="#1a1a1a" stroke-width="1.3" fill="none"/></svg>
</body></html>
